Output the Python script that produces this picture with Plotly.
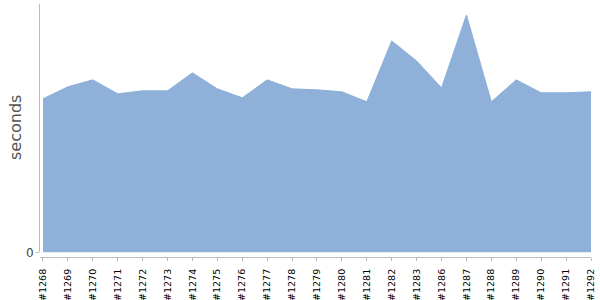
import plotly.graph_objects as go

builds = ["#1268", "#1269", "#1270", "#1271", "#1272", "#1273", "#1274", "#1275",
          "#1276", "#1277", "#1278", "#1279", "#1280", "#1281", "#1282", "#1283",
          "#1286", "#1287", "#1288", "#1289", "#1290", "#1291", "#1292"]
seconds = [15.4, 16.6, 17.3, 15.9, 16.2, 16.2, 18.0, 16.4,
           15.5, 17.3, 16.4, 16.3, 16.1, 15.1, 21.2, 19.2,
           16.5, 23.8, 15.1, 17.3, 16.0, 16.0, 16.1]

fig = go.Figure()
fig.add_trace(go.Scatter(
    x=list(range(len(builds))), y=seconds, mode="lines",
    fill="tozeroy", fillcolor="#8EB0D9",
    line=dict(color="#8EB0D9", width=1),
    hoverinfo="skip",
))

fig.add_annotation(
    text="seconds", xref="paper", yref="paper",
    x=(16 - 40) / 551, y=0.51, xanchor="center", yanchor="middle",
    textangle=-90, showarrow=False,
    font=dict(family="DejaVu Sans", size=16, color="#555555"),
)

fig.update_layout(
    width=600, height=300,
    margin=dict(l=40, r=9, t=4, b=43),
    plot_bgcolor="white", paper_bgcolor="white",
    showlegend=False,
    font=dict(family="DejaVu Sans"),
    xaxis=dict(
        range=[-0.12, 22], anchor="free", position=0, automargin=False,
        tickmode="array", tickvals=list(range(len(builds))), ticktext=builds,
        tickangle=-90, tickfont=dict(size=9.5, color="black"),
        ticklabelstandoff=4,
        showline=True, linecolor="#BBBBBB", linewidth=1,
        ticks="outside", ticklen=3, tickcolor="#BBBBBB",
        showgrid=False, zeroline=False,
    ),
    yaxis=dict(
        domain=[0.0178, 1], range=[0, 24.9], automargin=False,
        tickmode="array", tickvals=[0], ticktext=["0"],
        tickfont=dict(size=12, color="#444444"),
        showline=True, linecolor="#BBBBBB", linewidth=1,
        ticks="outside", ticklen=3, tickcolor="#BBBBBB",
        showgrid=False, zeroline=False,
    ),
)

fig.write_html("out.html")
